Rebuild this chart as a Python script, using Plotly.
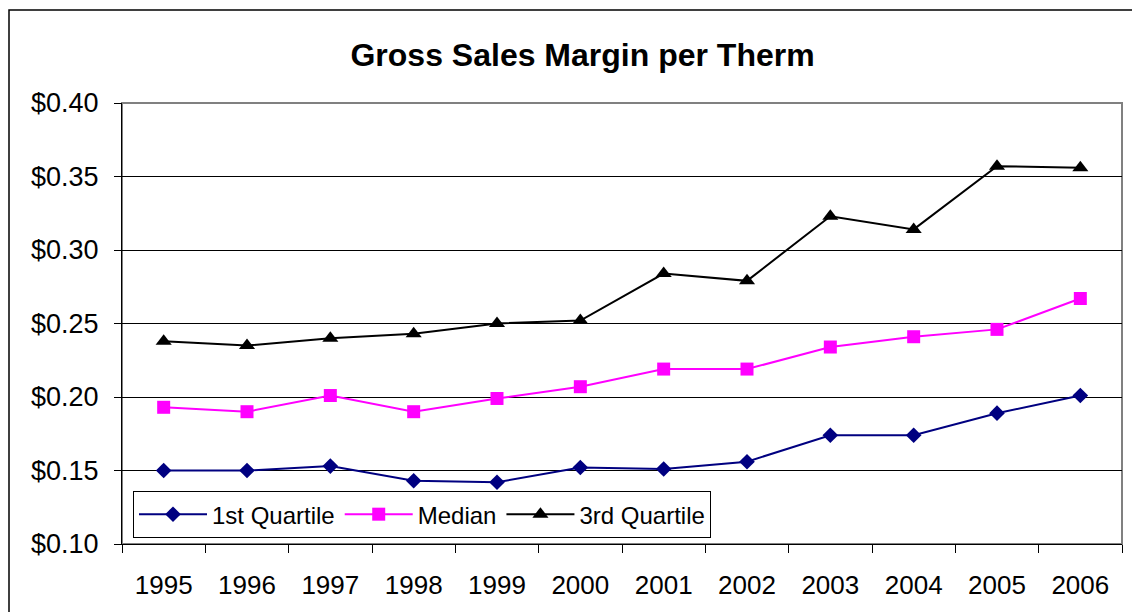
import plotly.graph_objects as go

years = ["1995", "1996", "1997", "1998", "1999", "2000",
         "2001", "2002", "2003", "2004", "2005", "2006"]
q1 = [0.150, 0.150, 0.153, 0.143, 0.142, 0.152, 0.151, 0.156, 0.174, 0.174, 0.189, 0.201]
median = [0.193, 0.190, 0.201, 0.190, 0.199, 0.207, 0.219, 0.219, 0.234, 0.241, 0.246, 0.267]
q3 = [0.238, 0.235, 0.240, 0.243, 0.250, 0.252, 0.284, 0.279, 0.323, 0.314, 0.357, 0.356]

FONT = "Liberation Sans, Arial, sans-serif"

fig = go.Figure()
fig.add_trace(go.Scatter(
    x=years, y=q1, name="1st Quartile", mode="lines+markers",
    line=dict(color="#000080", width=2),
    marker=dict(symbol="diamond", size=12, color="#000080")
))
fig.add_trace(go.Scatter(
    x=years, y=median, name="Median", mode="lines+markers",
    line=dict(color="#FF00FF", width=2),
    marker=dict(symbol="square", size=13, color="#FF00FF")
))
fig.add_trace(go.Scatter(
    x=years, y=q3, name="3rd Quartile", mode="lines+markers",
    line=dict(color="#000000", width=2),
    marker=dict(symbol="triangle-up", size=14, color="#000000")
))

# page has an 8px body margin, so margins are shifted accordingly
fig.update_layout(
    width=1140, height=612,
    margin=dict(l=114, r=26, t=95, b=76),
    paper_bgcolor="white", plot_bgcolor="white",
    font=dict(family=FONT, color="black"),
    title=dict(text="<b>Gross Sales Margin per Therm</b>", x=0.504, xanchor="center",
               y=0.923, yanchor="middle", font=dict(size=32, family=FONT)),
    xaxis=dict(
        type="category", showgrid=False, showline=True, linecolor="black", linewidth=1,
        ticks="outside", tickson="boundaries", ticklen=8, tickcolor="black",
        tickfont=dict(size=26), ticklabelstandoff=18, range=[-0.5, 11.5]
    ),
    yaxis=dict(
        range=[0.10, 0.40], dtick=0.05, tickformat="$.2f",
        showgrid=True, gridcolor="black", gridwidth=1,
        showline=True, linecolor="black", linewidth=1,
        ticks="outside", ticklen=7, tickcolor="black",
        tickfont=dict(size=27), ticklabelstandoff=10, zeroline=False
    ),
    legend=dict(
        orientation="h", x=0.011, y=0.12, xanchor="left", yanchor="top",
        bgcolor="white", bordercolor="black", borderwidth=1,
        font=dict(size=24, family=FONT), itemwidth=68,
        tracegroupgap=0
    ),
    shapes=[
        dict(type="rect", xref="paper", yref="paper", x0=0, x1=1, y0=0, y1=1,
             line=dict(color="#808080", width=2), layer="below"),
        dict(type="rect", xref="paper", yref="paper", x0=-0.113, x1=1.2, y0=-0.3, y1=1.211,
             line=dict(color="black", width=1.5), layer="below"),
    ],
)

fig.write_html("out.html")
